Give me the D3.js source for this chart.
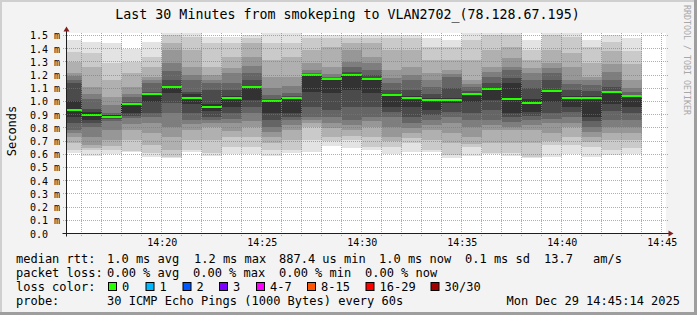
<!DOCTYPE html>
<html>
<head>
<meta charset="utf-8">
<script src="https://cdn.jsdelivr.net/npm/d3@7"></script>
<style>
  html, body { margin: 0; padding: 0; background: #f3f3f3; }
  svg { display: block; }
</style>
</head>
<body>
<div id="chart"></div>
<script>
// ---- data ----
const titleText = "Last 30 Minutes from smokeping to VLAN2702_(78.128.67.195)";
const day = "2025-12-29";
const startClock = "14:15:14";
const endClock = "14:45:14";

// end of each 60s step
const slotEnds = ["14:16", "14:17", "14:18", "14:19", "14:20", "14:21", "14:22", "14:23",
    "14:24", "14:25", "14:26", "14:27", "14:28", "14:29", "14:30", "14:31", "14:32", "14:33",
    "14:34", "14:35", "14:36", "14:37", "14:38", "14:39", "14:40", "14:41", "14:42", "14:43", "14:44"];

// median rtt per step, ms
const medians = [0.932, 0.900, 0.886, 0.982, 1.058, 1.111, 1.023, 0.960, 1.023, 1.108,
    1.002, 1.023, 1.200, 1.172, 1.202, 1.172, 1.050, 1.028, 1.015, 1.015,
    1.056, 1.096, 1.018, 0.992, 1.081, 1.028, 1.025, 1.073, 1.038];

// smoke: upper edge of each band, outer (lightest) -> inner (darkest), ms
const smokeHi = [
    [1.466, 1.377, 1.302, 1.213, 1.19, 1.16, 1.138, 1.00],
    [1.453, 1.365, 1.264, 1.112, 1.06, 1.02, 0.945, 0.92],
    [1.44, 1.289, 1.163, 1.037, 0.97, 0.91, 0.90, 0.895],
    [1.40, 1.30, 1.213, 1.112, 1.06, 1.037, 0.998, 0.99],
    [1.45, 1.339, 1.264, 1.188, 1.16, 1.138, 1.074, 1.066],
    [1.55, 1.50, 1.441, 1.39, 1.289, 1.23, 1.163, 1.12],
    [1.516, 1.49, 1.39, 1.264, 1.20, 1.163, 1.074, 1.06],
    [1.491, 1.44, 1.264, 1.20, 1.163, 1.14, 1.087, 0.98],
    [1.49, 1.44, 1.339, 1.25, 1.213, 1.138, 1.087, 1.04],
    [1.504, 1.48, 1.44, 1.339, 1.27, 1.213, 1.16, 1.115],
    [1.516, 1.44, 1.314, 1.188, 1.10, 1.05, 1.02, 1.01],
    [1.516, 1.44, 1.339, 1.188, 1.12, 1.062, 1.04, 1.03],
    [1.504, 1.48, 1.39, 1.289, 1.239, 1.215, 1.205, 1.202],
    [1.504, 1.48, 1.415, 1.264, 1.21, 1.188, 1.178, 1.174],
    [1.504, 1.48, 1.44, 1.39, 1.30, 1.264, 1.22, 1.205],
    [1.504, 1.48, 1.44, 1.339, 1.29, 1.239, 1.20, 1.175],
    [1.504, 1.48, 1.39, 1.239, 1.18, 1.138, 1.09, 1.06],
    [1.504, 1.48, 1.39, 1.264, 1.20, 1.163, 1.09, 1.04],
    [1.478, 1.415, 1.314, 1.213, 1.16, 1.112, 1.06, 1.025],
    [1.466, 1.415, 1.314, 1.239, 1.21, 1.188, 1.10, 1.03],
    [1.55, 1.466, 1.314, 1.163, 1.13, 1.112, 1.08, 1.065],
    [1.55, 1.50, 1.39, 1.264, 1.22, 1.188, 1.138, 1.105],
    [1.55, 1.50, 1.415, 1.33, 1.264, 1.239, 1.18, 1.138],
    [1.466, 1.39, 1.314, 1.25, 1.213, 1.163, 1.10, 1.02],
    [1.55, 1.50, 1.39, 1.289, 1.25, 1.213, 1.163, 1.09],
    [1.516, 1.49, 1.365, 1.264, 1.163, 1.13, 1.087, 1.04],
    [1.466, 1.415, 1.289, 1.188, 1.16, 1.125, 1.08, 1.04],
    [1.50, 1.45, 1.386, 1.285, 1.22, 1.159, 1.11, 1.08],
    [1.48, 1.386, 1.285, 1.159, 1.10, 1.07, 1.045, 1.04]
];

// smoke: lower edge of each band, outer -> inner, ms
const smokeLo = [
    [0.607, 0.633, 0.684, 0.733, 0.76, 0.784, 0.835, 0.88],
    [0.59, 0.633, 0.65, 0.67, 0.733, 0.809, 0.835, 0.86],
    [0.60, 0.633, 0.66, 0.708, 0.784, 0.85, 0.865, 0.88],
    [0.615, 0.625, 0.708, 0.784, 0.83, 0.872, 0.89, 0.91],
    [0.58, 0.607, 0.67, 0.759, 0.835, 0.88, 0.91, 0.998],
    [0.57, 0.582, 0.633, 0.733, 0.809, 0.91, 0.99, 1.062],
    [0.62, 0.633, 0.708, 0.784, 0.83, 0.86, 0.91, 0.98],
    [0.59, 0.607, 0.708, 0.809, 0.835, 0.86, 0.885, 0.93],
    [0.60, 0.658, 0.733, 0.78, 0.835, 0.87, 0.91, 0.961],
    [0.604, 0.658, 0.733, 0.809, 0.85, 0.91, 0.96, 1.011],
    [0.585, 0.633, 0.684, 0.733, 0.77, 0.809, 0.86, 0.91],
    [0.608, 0.633, 0.708, 0.784, 0.82, 0.86, 0.885, 0.91],
    [0.62, 0.708, 0.809, 0.84, 0.86, 0.885, 0.961, 1.074],
    [0.661, 0.70, 0.733, 0.80, 0.835, 0.885, 0.936, 1.062],
    [0.644, 0.708, 0.74, 0.784, 0.82, 0.86, 0.961, 1.087],
    [0.636, 0.658, 0.733, 0.809, 0.85, 0.885, 0.961, 1.062],
    [0.606, 0.658, 0.70, 0.733, 0.809, 0.885, 0.92, 0.961],
    [0.62, 0.684, 0.72, 0.759, 0.80, 0.835, 0.885, 0.961],
    [0.614, 0.633, 0.708, 0.784, 0.82, 0.86, 0.90, 0.936],
    [0.57, 0.595, 0.684, 0.759, 0.835, 0.88, 0.923, 0.986],
    [0.59, 0.658, 0.68, 0.733, 0.809, 0.86, 0.91, 0.998],
    [0.60, 0.607, 0.684, 0.784, 0.82, 0.86, 0.936, 1.011],
    [0.585, 0.607, 0.684, 0.784, 0.81, 0.847, 0.88, 0.91],
    [0.57, 0.582, 0.684, 0.784, 0.82, 0.86, 0.89, 0.923],
    [0.583, 0.67, 0.70, 0.759, 0.835, 0.87, 0.91, 0.998],
    [0.60, 0.67, 0.733, 0.809, 0.84, 0.885, 0.92, 0.961],
    [0.578, 0.658, 0.69, 0.733, 0.77, 0.809, 0.85, 0.885],
    [0.593, 0.629, 0.705, 0.759, 0.81, 0.856, 0.93, 0.982],
    [0.604, 0.65, 0.705, 0.759, 0.806, 0.856, 0.91, 0.957]
];

const yTicks = [0, 0.1, 0.2, 0.3, 0.4, 0.5, 0.6, 0.7, 0.8, 0.9, 1.0, 1.1, 1.2, 1.3, 1.4, 1.5];
const yTickLabels = ["0.0", "0.1 m", "0.2 m", "0.3 m", "0.4 m", "0.5 m", "0.6 m", "0.7 m",
    "0.8 m", "0.9 m", "1.0 m", "1.1 m", "1.2 m", "1.3 m", "1.4 m", "1.5 m"];
const yMax = 1.515;
const yLabel = "Seconds";
const xTickLabels = ["14:20", "14:25", "14:30", "14:35", "14:40", "14:45"];

const rttHead = "median rtt:";
const rttStats = ["1.0 ms avg", "1.2 ms max", "887.4 us min", "1.0 ms now", "0.1 ms sd", "13.7", "am/s"];
const lossHead = "packet loss:";
const lossStats = ["0.00 % avg", "0.00 % max", "0.00 % min", "0.00 % now"];
const colorHead = "loss color:";
const lossLabels = ["0", "1", "2", "3", "4-7", "8-15", "16-29", "30/30"];
const lossColors = ["#26ff00", "#00b8ff", "#0059ff", "#7e00ff", "#ff00ff", "#ff5500", "#ff0000", "#a00000"];
const probeHead = "probe:";
const probeText = "30 ICMP Echo Pings (1000 Bytes) every 60s";
const stampText = "Mon Dec 29 14:45:14 2025";
const watermark = "RRDTOOL / TOBI OETIKER";

// ---- layout ----
const W = 697, H = 315;
const plot = { x0: 66.5, x1: 666.5, y0: 233.5, y1: 33.5 };
const mono = "'DejaVu Sans Mono', monospace";
const rowY = [263, 277, 291, 305];
const headX = 16;
const statX = [107, 194, 279, 379, 465, 544, 593];
const lossX = [107, 193, 279, 365];
const boxX = [108, 145.5, 182.5, 219, 256, 307, 365.5, 430.5];

const px = v => Math.floor(v) + 0.5;

const parseTime = d3.timeParse("%Y-%m-%d %H:%M:%S");
const startTime = parseTime(`${day} ${startClock}`);
const endTime = parseTime(`${day} ${endClock}`);

const x = d3.scaleTime().domain([startTime, endTime]).range([plot.x0, plot.x1]);
const y = d3.scaleLinear().domain([0, yMax]).range([plot.y0, plot.y1]);
const shade = d3.scaleLinear().domain([0, 7]).range([227, 50]);

const slots = slotEnds.map((s, i) => {
    const t1 = parseTime(`${day} ${s}:00`);
    const t0 = new Date(Math.max(+startTime, +t1 - 60000));
    return { t0, t1, median: medians[i], hi: smokeHi[i], lo: smokeLo[i] };
});

const svg = d3.select("#chart").append("svg")
    .attr("width", W)
    .attr("height", H)
    .attr("viewBox", [0, 0, W, H]);

// background + frame
svg.append("rect").attr("width", W).attr("height", H).attr("fill", "#f3f3f3");
svg.append("rect").attr("x", 0).attr("y", 0).attr("width", W).attr("height", 2).attr("fill", "#cfcfcf");
svg.append("rect").attr("x", 0).attr("y", 0).attr("width", 2).attr("height", H).attr("fill", "#cfcfcf");
svg.append("rect").attr("x", 0).attr("y", H - 3).attr("width", W).attr("height", 3).attr("fill", "#9e9e9e");
svg.append("rect").attr("x", W - 3).attr("y", 0).attr("width", 3).attr("height", H).attr("fill", "#9e9e9e");

// canvas
svg.append("rect")
    .attr("x", plot.x0 - 0.5).attr("y", plot.y1 - 0.5)
    .attr("width", plot.x1 - plot.x0).attr("height", plot.y0 - plot.y1)
    .attr("fill", "#ffffff");

svg.append("clipPath").attr("id", "canvas")
    .append("rect")
    .attr("x", plot.x0 + 0.5).attr("y", plot.y1 - 0.5)
    .attr("width", plot.x1 - plot.x0).attr("height", plot.y0 - plot.y1);

const data = svg.append("g").attr("clip-path", "url(#canvas)");

// smoke
data.append("g")
    .attr("shape-rendering", "crispEdges")
    .selectAll("g")
    .data(slots)
    .join("g")
    .selectAll("rect")
    .data(d => d.hi.map((h, k) => ({ t0: d.t0, t1: d.t1, hi: h, lo: d.lo[k], k })))
    .join("rect")
    .attr("x", d => x(d.t0))
    .attr("width", d => x(d.t1) - x(d.t0))
    .attr("y", d => y(d.hi))
    .attr("height", d => y(d.lo) - y(d.hi))
    .attr("fill", d => { const g = Math.round(shade(d.k)); return d3.rgb(g, g, g); });

// step connectors between medians
data.append("g")
    .attr("stroke", "#1a1a1a")
    .attr("stroke-width", 1)
    .attr("stroke-dasharray", "1,1")
    .selectAll("line")
    .data(slots.slice(0, -1).map((d, i) => ({ t: d.t1, a: d.median, b: slots[i + 1].median })))
    .join("line")
    .attr("x1", d => px(x(d.t))).attr("x2", d => px(x(d.t)))
    .attr("y1", d => Math.round(y(d.a))).attr("y2", d => Math.round(y(d.b)));

// grid
const minorTimes = d3.timeMinute.range(startTime, endTime).filter(t => t.getMinutes() % 5 !== 0);
const majorTimes = d3.timeMinute.every(5).range(startTime, endTime);
const grid = svg.append("g").attr("stroke-width", 1).attr("stroke-dasharray", "1,1").attr("fill", "none");
const gTop = Math.floor(plot.y1), gBottom = Math.floor(plot.y0) + 4;
const gLeft = Math.floor(plot.x0) - 3, gRight = Math.floor(plot.x1) + 2;

grid.append("g")
    .attr("stroke", "rgba(143,143,143,0.75)")
    .selectAll("line")
    .data(minorTimes)
    .join("line")
    .attr("x1", d => px(x(d))).attr("x2", d => px(x(d)))
    .attr("y1", gTop).attr("y2", gBottom);

grid.append("g")
    .attr("stroke", "rgba(222,79,79,0.6)")
    .selectAll("line")
    .data(majorTimes)
    .join("line")
    .attr("x1", d => px(x(d))).attr("x2", d => px(x(d)))
    .attr("y1", gTop).attr("y2", gBottom);

grid.append("g")
    .attr("stroke", "rgba(222,79,79,0.6)")
    .selectAll("line")
    .data(yTicks.slice(1))
    .join("line")
    .attr("x1", gLeft).attr("x2", gRight)
    .attr("y1", d => px(y(d))).attr("y2", d => px(y(d)));

// median line
data.append("g")
    .attr("shape-rendering", "crispEdges")
    .selectAll("rect")
    .data(slots)
    .join("rect")
    .attr("x", d => x(d.t0))
    .attr("width", d => x(d.t1) - x(d.t0))
    .attr("y", d => Math.round(y(d.median)) - 1)
    .attr("height", 2)
    .attr("fill", lossColors[0]);

// axes
const xTickTimes = xTickLabels.map(s => parseTime(`${day} ${s}:00`));

svg.append("g")
    .attr("transform", `translate(0,${plot.y0})`)
    .call(d3.axisBottom(x).tickValues(xTickTimes).tickFormat((d, i) => xTickLabels[i]).tickSize(0).tickPadding(5.5))
    .call(g => g.select(".domain").remove())
    .call(g => g.selectAll("text").attr("font-family", mono).attr("font-size", 10).attr("fill", "#000"));

svg.append("g")
    .attr("transform", `translate(${plot.x0},0)`)
    .call(d3.axisLeft(y).tickValues(yTicks).tickFormat((d, i) => yTickLabels[i]).tickSize(0))
    .call(g => g.select(".domain").remove())
    .call(g => g.selectAll("text")
        .attr("text-anchor", "start")
        .attr("x", 30 - plot.x0)
        .attr("dy", "0.35em")
        .attr("font-family", mono).attr("font-size", 10).attr("fill", "#000"));

svg.append("line")
    .attr("x1", plot.x0 - 4).attr("x2", plot.x1 + 3)
    .attr("y1", plot.y0).attr("y2", plot.y0)
    .attr("stroke", "#1f1f1f");
svg.append("line")
    .attr("x1", plot.x0).attr("x2", plot.x0)
    .attr("y1", plot.y0 + 3).attr("y2", plot.y1 - 3)
    .attr("stroke", "#1f1f1f");
svg.append("path")
    .attr("d", `M${plot.x1 + 2},${plot.y0 - 3}L${plot.x1 + 7},${plot.y0}L${plot.x1 + 2},${plot.y0 + 3}Z`)
    .attr("fill", "#801f1f");
svg.append("path")
    .attr("d", `M${plot.x0 - 3},${plot.y1 - 2}L${plot.x0},${plot.y1 - 7}L${plot.x0 + 3},${plot.y1 - 2}Z`)
    .attr("fill", "#801f1f");

// title, axis label, watermark
svg.append("text")
    .attr("x", 347.5).attr("y", 18.5)
    .attr("text-anchor", "middle")
    .attr("font-family", mono).attr("font-size", 13.3)
    .text(titleText);

svg.append("text")
    .attr("transform", "translate(15.5,131) rotate(-90)")
    .attr("text-anchor", "middle")
    .attr("font-family", mono).attr("font-size", 12)
    .text(yLabel);

svg.append("text")
    .attr("transform", "translate(683.5,5) rotate(90)")
    .attr("font-family", mono).attr("font-size", 8.3)
    .attr("fill", "#a8a8a8")
    .text(watermark);

// legend
const legend = svg.append("g").attr("font-family", mono).attr("font-size", 12).attr("fill", "#000");
const put = (tx, ty, s, anchor) => legend.append("text")
    .attr("x", tx).attr("y", ty)
    .attr("text-anchor", anchor || "start")
    .attr("xml:space", "preserve")
    .text(s);

put(headX, rowY[0], rttHead);
rttStats.forEach((s, i) => put(statX[i], rowY[0], s));

put(headX, rowY[1], lossHead);
lossStats.forEach((s, i) => put(lossX[i], rowY[1], s));

put(headX, rowY[2], colorHead);
legend.append("g")
    .selectAll("rect")
    .data(lossColors)
    .join("rect")
    .attr("x", (d, i) => boxX[i] + 0.5)
    .attr("y", rowY[2] - 8.5)
    .attr("width", 8).attr("height", 8)
    .attr("fill", d => d)
    .attr("stroke", "#000").attr("stroke-width", 1);
lossLabels.forEach((s, i) => put(boxX[i] + 14, rowY[2], s));

put(headX, rowY[3], probeHead);
put(107, rowY[3], probeText);
put(680, rowY[3], stampText, "end");
</script>
</body>
</html>
